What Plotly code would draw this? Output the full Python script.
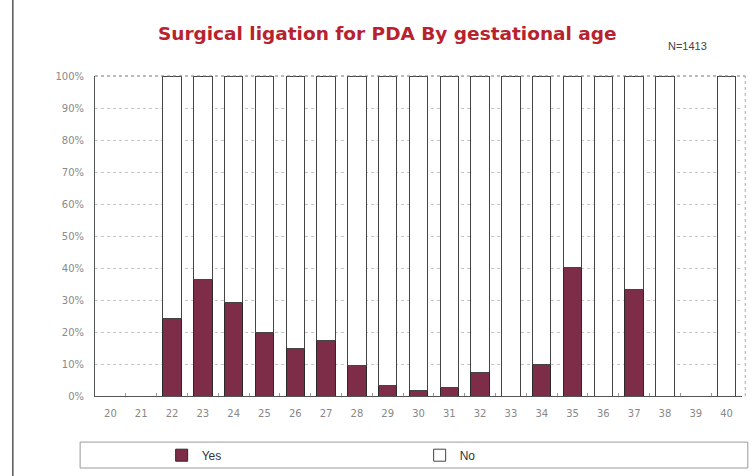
import plotly.graph_objects as go

ages = [str(a) for a in range(20, 41)]
yes_pct = [None, None, 24.3, 36.5, 29.2, 19.7, 14.7, 17.5, 9.6, 3.2, 1.8, 2.7, 7.3, 0, 10.0, 40.1, 0, 33.4, 0, None, 0]
no_pct = [None if v is None else 100 - v for v in yes_pct]
y_ticks = [0, 10, 20, 30, 40, 50, 60, 70, 80, 90, 100]
y_labels = [f"{t}%" for t in y_ticks]

fig = go.Figure()
fig.add_trace(go.Bar(x=ages, y=yes_pct, name="Yes",
                     marker=dict(color="#7E2D48", line=dict(color="#2a2a2a", width=1))))
fig.add_trace(go.Bar(x=ages, y=no_pct, name="No",
                     marker=dict(color="white", line=dict(color="#444", width=1))))

fig.update_layout(
    barmode="stack", bargap=0.4,
    width=752, height=476,
    margin=dict(l=95, r=10, t=76, b=80, autoexpand=False),
    paper_bgcolor="white", plot_bgcolor="white",
    font=dict(family="DejaVu Sans", size=9, color="#888"),
    title=dict(text="<b>Surgical ligation for PDA By gestational age</b>",
               x=0.515, xanchor="center", y=0.93, yanchor="middle",
               font=dict(family="DejaVu Sans", size=18.5, color="#B8222E")),
    showlegend=True,
    legend=dict(orientation="h", x=0.103, xanchor="left", y=-0.185, yanchor="middle",
                entrywidth=213, entrywidthmode="pixels", traceorder="normal",
                itemwidth=30,
                font=dict(family="Liberation Sans Narrow, Liberation Sans", size=12, color="#333"),
                bgcolor="rgba(0,0,0,0)"),
    xaxis=dict(type="category", showgrid=False, showline=True, linecolor="#555", linewidth=1,
               ticks="inside", ticklen=3, tickcolor="#999", tickson="boundaries",
               ticklabelstandoff=8,
               tickfont=dict(size=10, color="#888")),
    yaxis=dict(range=[0, 100], tickvals=y_ticks, ticktext=y_labels,
               showgrid=True, gridcolor="#c4c4c4", griddash="dot", gridwidth=1,
               showline=True, linecolor="#555", linewidth=1, zeroline=False,
               ticklabelstandoff=8,
               tickfont=dict(size=10, color="#8a8a8a"), ticks=""),
    shapes=[
        dict(type="rect", xref="paper", yref="paper", x0=-0.023, x1=1.009, y0=-0.144, y1=-0.225,
             line=dict(color="#999", width=1), fillcolor="rgba(0,0,0,0)"),
        dict(type="line", xref="paper", yref="paper", x0=1.005, x1=1.005, y0=0, y1=1,
             line=dict(color="#aaa", width=1, dash="dot")),
        dict(type="line", xref="paper", yref="paper", x0=0, x1=1.005, y0=1, y1=1,
             line=dict(color="#777", width=1, dash="dot")),
        dict(type="line", xref="paper", yref="paper", x0=-0.127, x1=-0.127, y0=-0.25, y1=1.24,
             line=dict(color="#555", width=1.5)),
    ],
    annotations=[
        dict(text="N=1413", xref="paper", yref="paper", x=0.915, y=1.095, xanchor="center",
             yanchor="middle", showarrow=False, font=dict(family="Liberation Sans Narrow, Liberation Sans", size=11, color="#444")),
    ],
)

fig.write_html("out.html", config={"displayModeBar": False},
               post_script="document.body.style.margin='0';document.body.style.overflow='hidden';")
